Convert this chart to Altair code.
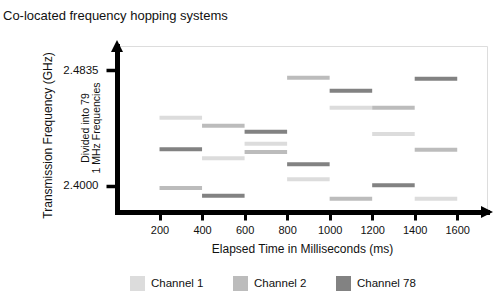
import altair as alt
import pandas as pd

title_text = "Co-located frequency hopping systems"
y_title = "Transmission Frequency (GHz)"
y_note = ["Divided into 79", "1 MHz Frequencies"]
x_title = "Elapsed Time in Milliseconds (ms)"

slot_start = [200, 400, 600, 800, 1000, 1200, 1400]
slot_len = 200
channels = ["Channel 1", "Channel 2", "Channel 78"]
colors = ["#dcdcdc", "#bcbcbc", "#828282"]
ch1 = [2.4492, 2.4199, 2.4305, 2.4048, 2.4564, 2.4374, 2.3909]
ch2 = [2.3986, 2.4434, 2.4245, 2.4780, 2.3909, 2.4564, 2.4261]
ch78 = [2.4264, 2.3930, 2.4391, 2.4156, 2.4686, 2.4005, 2.4772]
x_ticks = [200, 400, 600, 800, 1000, 1200, 1400, 1600]
y_ticks = [2.4, 2.4835]
x_dom = [0, 1740]
y_dom = [2.38128, 2.50078]

rows = []
for name, vals in zip(channels, [ch1, ch2, ch78]):
    for s, v in zip(slot_start, vals):
        rows.append({"channel": name, "start": s, "end": s + slot_len, "freq": v})
df = pd.DataFrame(rows)

FONT = "Liberation Sans"
TXT = "#111111"

xs = alt.Scale(domain=x_dom, nice=False, zero=False, padding=0)
ys = alt.Scale(domain=y_dom, nice=False, zero=False, padding=0)

bars = alt.Chart(df).mark_bar(size=4).encode(
    x=alt.X("start:Q", scale=xs, axis=alt.Axis(
        values=x_ticks, format="d", title=x_title, grid=False,
        domainColor="black", domainWidth=5, domainCap="square",
        tickColor="black", tickWidth=3, tickSize=8,
        labelFont=FONT, labelFontSize=11, labelColor=TXT, labelPadding=4,
        titleFont=FONT, titleFontSize=12, titleFontWeight="normal", titleColor=TXT,
        titleY=36, titleBaseline="middle")),
    x2="end:Q",
    y=alt.Y("freq:Q", scale=ys, axis=alt.Axis(
        values=y_ticks, format=".4f", title=y_title, grid=False,
        domainColor="black", domainWidth=5, domainCap="square",
        tickColor="black", tickWidth=3.5, tickSize=11,
        labelFont=FONT, labelFontSize=11.5, labelColor=TXT, labelPadding=8,
        titleFont=FONT, titleFontSize=12, titleFontWeight="normal", titleColor=TXT,
        titleX=-70, titleY=89, titleAngle=270, titleAlign="center", titleBaseline="middle")),
    color=alt.Color("channel:N", scale=alt.Scale(domain=channels, range=colors),
                    legend=alt.Legend(title=None, orient="none", legendX=13, legendY=230,
                                      direction="horizontal", symbolType="square",
                                      symbolSize=225, symbolStrokeWidth=0,
                                      labelFont=FONT, labelFontSize=11.5, labelColor=TXT,
                                      labelOffset=6, columnPadding=29)),
)

arrow_df = pd.DataFrame({
    "x": [x_dom[0], x_dom[1]],
    "y": [y_dom[1], y_dom[0]],
    "shape": ["M0,-1L1,1L-1,1Z", "M1,0L-1,-1L-1,1Z"],
})
arrows = alt.Chart(arrow_df).mark_point(filled=True, color="black", opacity=1, size=144).encode(
    x=alt.X("x:Q", scale=xs),
    y=alt.Y("y:Q", scale=ys),
    shape=alt.Shape("shape:N", scale=None, legend=None),
)

note = alt.Chart(pd.DataFrame({"t": [y_note]})).mark_text(
    angle=270, align="center", baseline="middle", font=FONT, fontSize=10.5,
    color=TXT, lineHeight=11,
).encode(x=alt.value(-31.5), y=alt.value(82), text="t")

title = alt.Chart(pd.DataFrame({"t": [title_text]})).mark_text(
    align="left", baseline="alphabetic", font=FONT, fontSize=13, color=TXT,
).encode(x=alt.value(-114), y=alt.value(-26), text="t")

chart = alt.layer(bars, arrows, note, title).properties(
    width=370, height=166,
    padding={"left": 117, "top": 46, "right": 7, "bottom": 87},
    autosize=alt.AutoSizeParams(type="none"),
).configure_view(stroke=None).configure(background="white")

chart.save("out.html", embed_options={"renderer": "svg", "actions": False})
